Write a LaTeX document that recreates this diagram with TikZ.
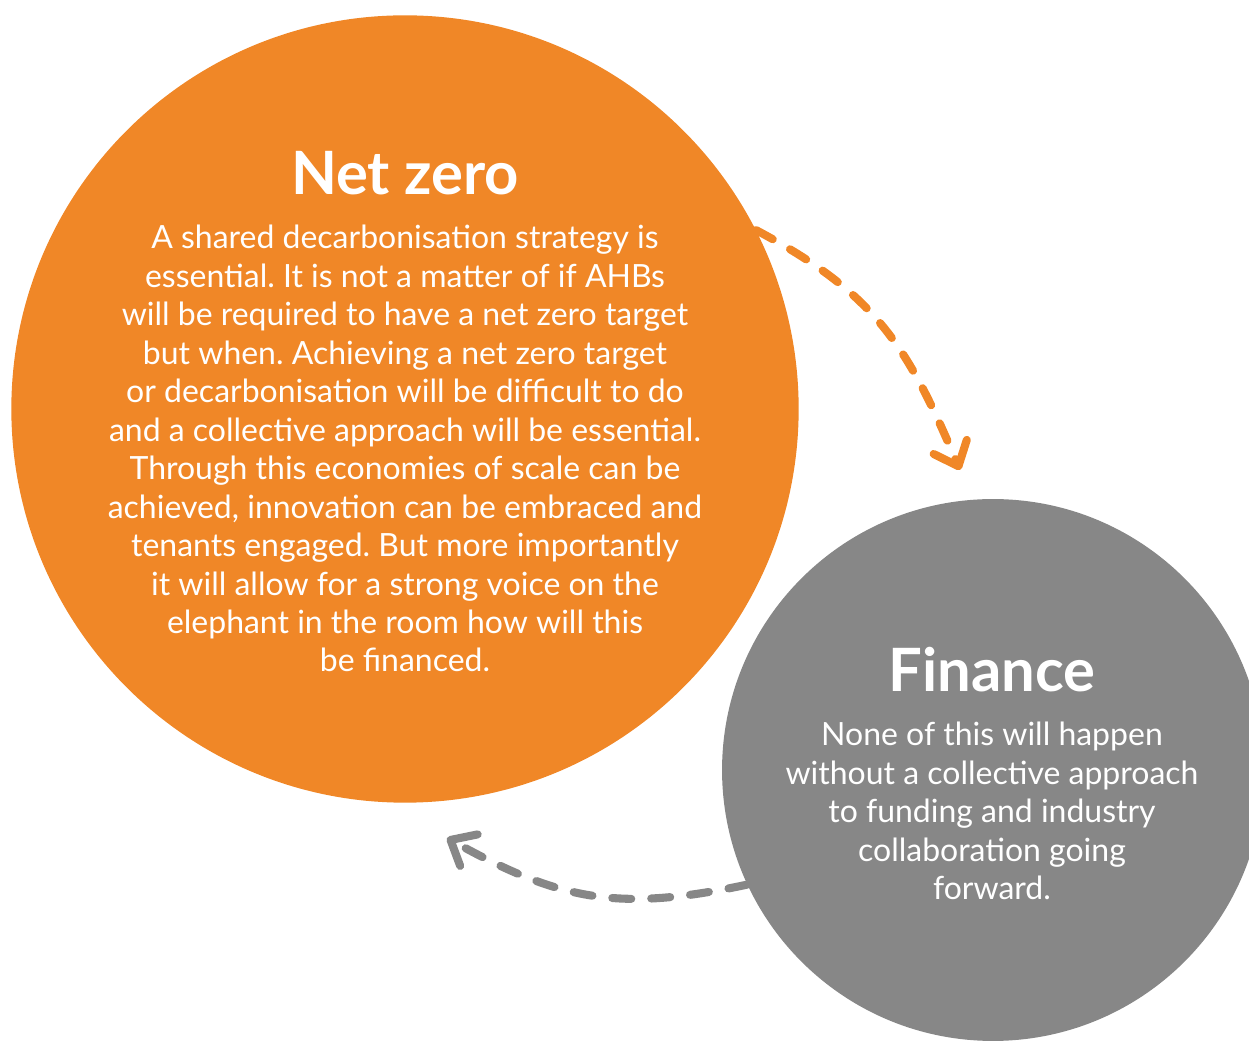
\documentclass[tikz,border=0pt]{standalone}
\usepackage{fontspec}
\setmainfont{Lato}
\frenchspacing
\usepackage{xcolor}
\usepackage{tikz}
\usetikzlibrary{calc, positioning, arrows.meta}
\definecolor{nzorange}{HTML}{F08727}
\definecolor{fingrey}{HTML}{878787}
\tikzset{
    bubble/.style={circle, draw=none, inner sep=0pt},
    heading/.style={text=white, inner sep=0pt, font=\bfseries\fontsize{34}{40}\selectfont},
    blurb/.style={text=white, inner sep=0pt, align=center, font=\fontsize{18.2}{21.9}\selectfont},
    flow/.style={line width=4.6pt, line cap=round, dash pattern=on 0.38cm off 0.4cm,
        -{Straight Barb[length=0.42cm, width=0.72cm, line cap=round, line join=round]}}
}

\begin{document}
\begin{tikzpicture}[x=0.02cm, y=0.02cm]
    \useasboundingbox (0,0) rectangle (1249,1042);

    % Circles
    \node[bubble, fill=nzorange, minimum size=15.75cm] (netzero) at (405,633) {};
    \node[bubble, fill=fingrey, minimum size=10.84cm] (finance) at (993,272) {};

    % Texts
    \node[heading, anchor=base] (nztitle) at (405,847) {Net zero};
    \node[blurb, below=0.58cm of nztitle] (nzbody) {A shared decarbonisation strategy is\\
        essential. It is not a matter of if AHBs\\
        will be required to have a net zero target\\
        but when. Achieving a net zero target\\
        or decarbonisation will be difficult to do\\
        and a collective approach will be essential.\\
        Through this economies of scale can be\\
        achieved, innovation can be embraced and\\
        tenants engaged. But more importantly\\
        it will allow for a strong voice on the\\
        elephant in the room how will this\\
        be financed.};

    \node[heading, anchor=base] (fintitle) at (992,350) {Finance};
    \node[blurb, below=0.58cm of fintitle] (finbody) {None of this will happen\\
        without a collective approach\\
        to funding and industry\\
        collaboration going\\
        forward.};

    % Arrows
    \coordinate (tipA) at (960,572);
    \coordinate (tipB) at (447,204);
    \draw[flow, nzorange] (netzero.27) to[out=-28, in=113, looseness=1.1] (tipA);
    \draw[flow, fingrey] (finance.205) to[out=192, in=-29, looseness=1.1] (tipB);
\end{tikzpicture}
\end{document}
